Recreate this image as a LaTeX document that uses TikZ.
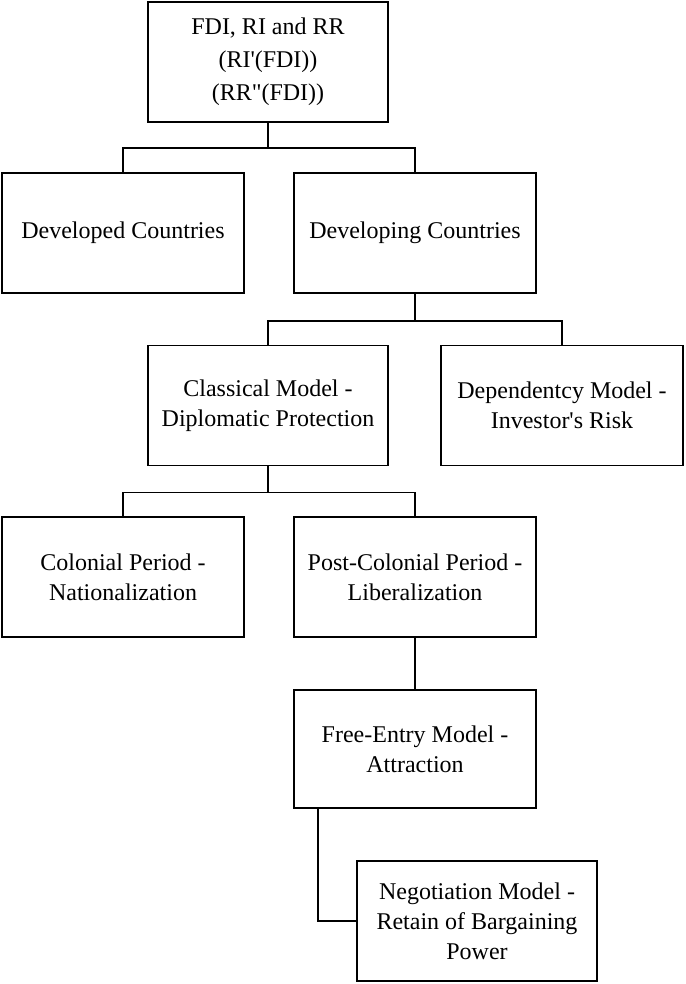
\documentclass[tikz,border=0pt]{standalone}
\usepackage{fontspec}
\setmainfont{Liberation Serif}
\tikzset{
	modelbox/.style={draw, line width=0.8pt, align=center, minimum width=121pt,
		minimum height=60pt, inner sep=0pt, font=\fontsize{12}{15}\selectfont},
	link/.style={line width=0.8pt}
}
\begin{document}
\begin{tikzpicture}[x=0.5pt, y=-0.5pt]
			\useasboundingbox (0,0) rectangle (685,984);

			% Root of the tree
			\node[modelbox, minimum width=120pt, font=\fontsize{12}{16.5}\selectfont] (fdi) at (268,62)
				{FDI, RI and RR\\(RI\textquotesingle(FDI))\\(RR\textquotedbl(FDI))};

			% First level
			\node[modelbox] (developed) at (123,233) {Developed Countries};
			\node[modelbox] (developing) at (415,233) {Developing Countries};

			% Models for developing countries
			\node[modelbox, minimum width=120pt] (classical) at (268,405.5)
				{Classical Model -\\Diplomatic Protection};
			\node[modelbox] (dependency) at (562,405.5)
				{Dependentcy Model -\\Investor\textquotesingle s Risk};

			% Periods
			\node[modelbox] (colonial) at (123,577) {Colonial Period -\\Nationalization};
			\node[modelbox] (postcolonial) at (415,577) {Post-Colonial Period -\\Liberalization};

			% Later models
			\node[modelbox, minimum height=59pt] (freeentry) at (415,749)
				{Free-Entry Model -\\Attraction};
			\node[modelbox, minimum width=120pt] (negotiation) at (477,921)
				{Negotiation Model -\\Retain of Bargaining\\Power};

			% Connectors
			\draw[link] (fdi.south) -- ++(0,-12.5pt) -| (developed.north);
			\draw[link] (fdi.south) -- ++(0,-12.5pt) -| (developing.north);
			\draw[link] (developing.south) -- ++(0,-13.5pt) -| (classical.north);
			\draw[link] (developing.south) -- ++(0,-13.5pt) -| (dependency.north);
			\draw[link] (classical.south) -- ++(0,-13pt) -| (colonial.north);
			\draw[link] (classical.south) -- ++(0,-13pt) -| (postcolonial.north);
			\draw[link] (postcolonial.south) -- (freeentry.north);
			\draw[link] ([xshift=-48.5pt]freeentry.south) |- (negotiation.west);
		\end{tikzpicture}
\end{document}
